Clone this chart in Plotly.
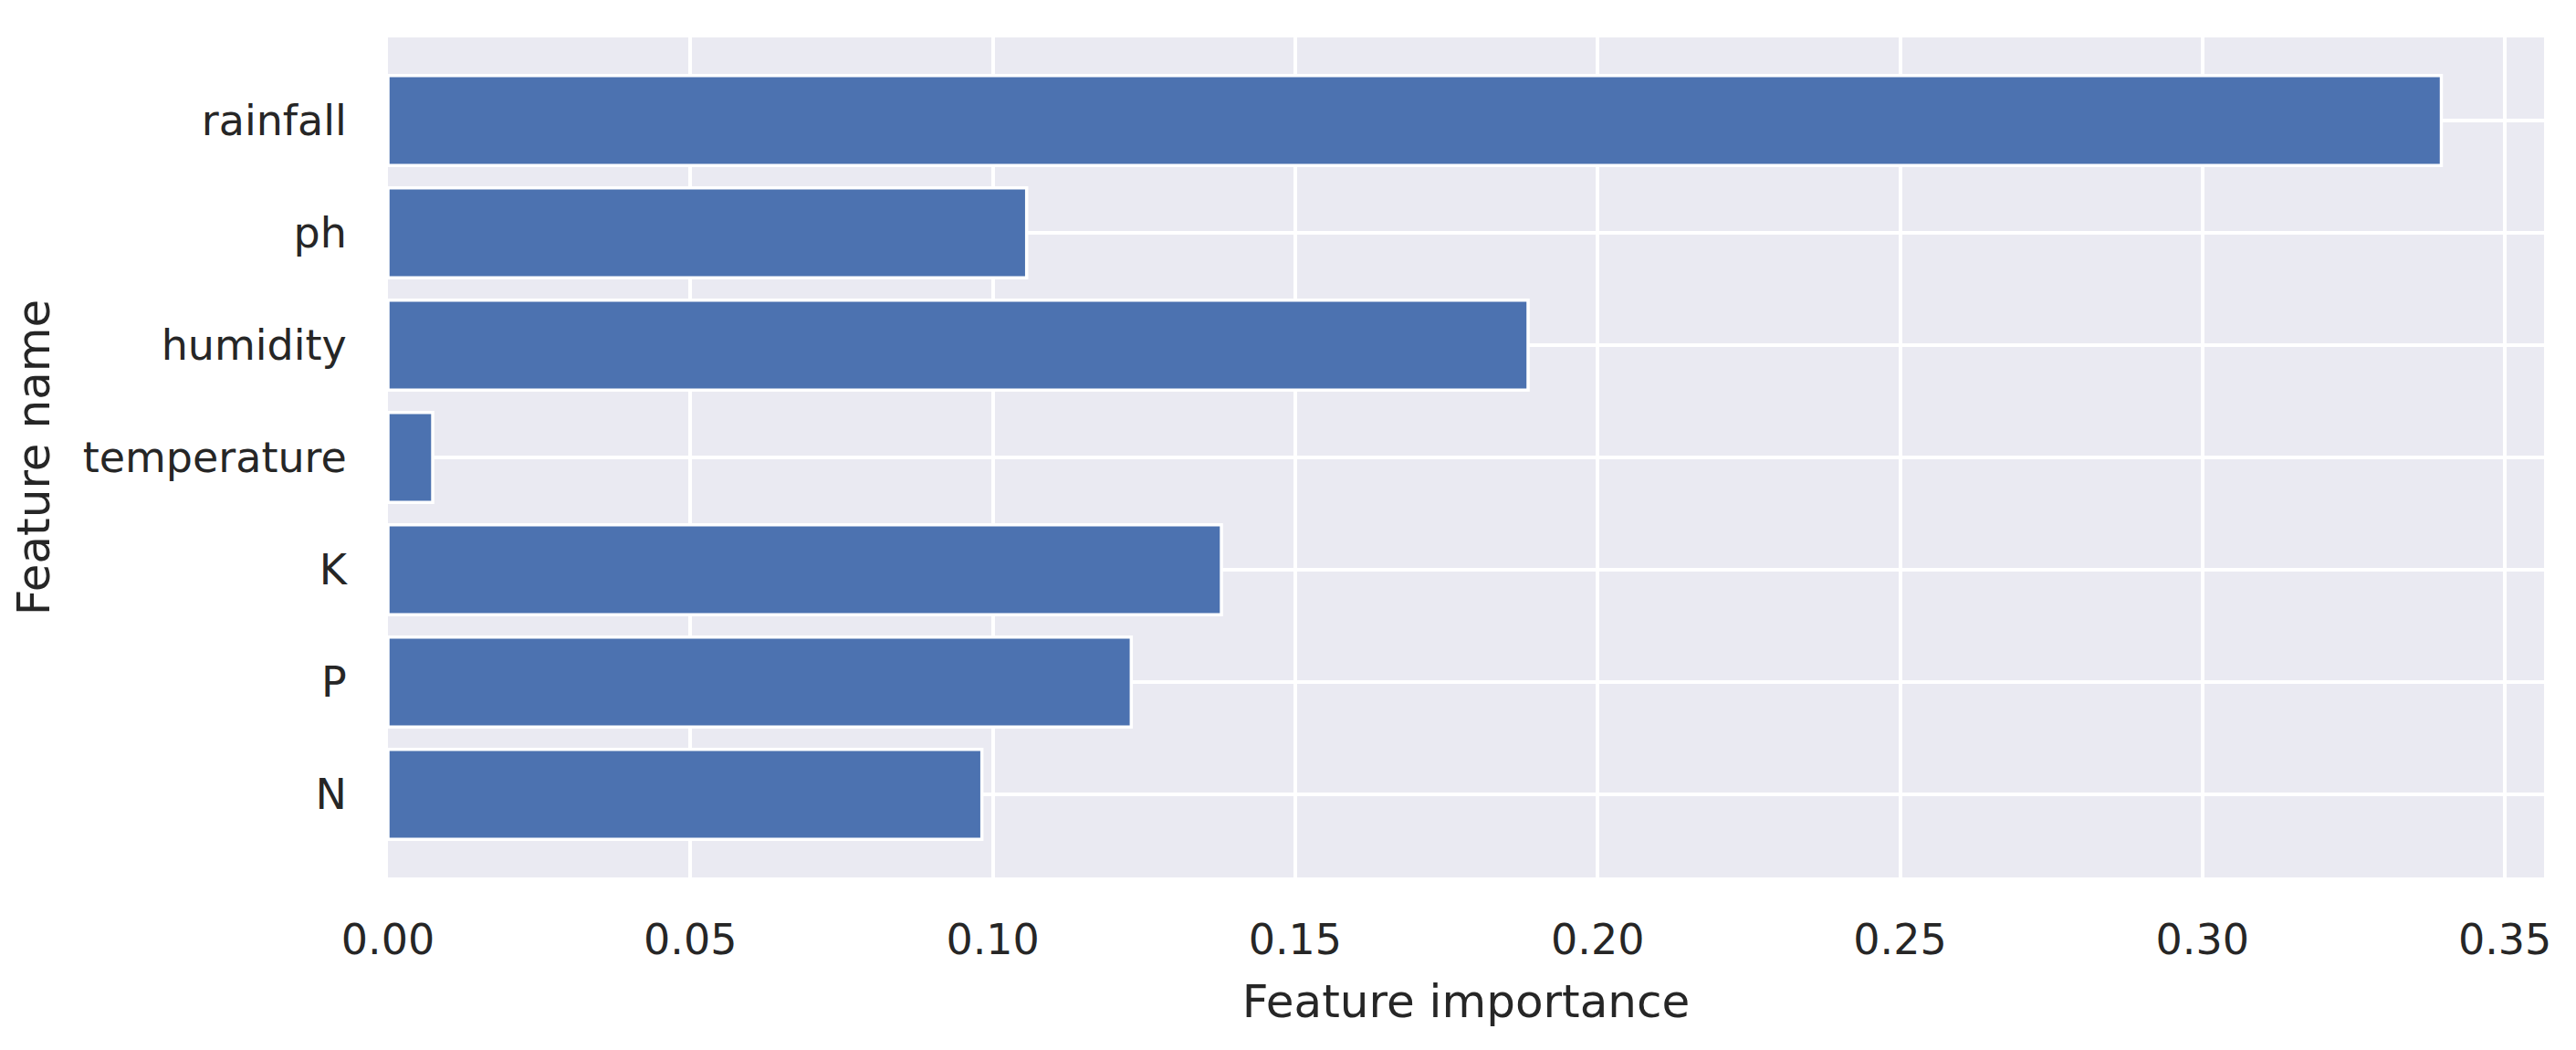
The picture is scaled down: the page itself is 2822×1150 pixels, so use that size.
import plotly.graph_objects as go

features = ["N", "P", "K", "temperature", "humidity", "ph", "rainfall"]
importance = [0.0982, 0.1229, 0.1378, 0.0074, 0.1885, 0.1056, 0.3395]
x_ticks = [0.00, 0.05, 0.10, 0.15, 0.20, 0.25, 0.30, 0.35]
x_tick_text = ["0.00", "0.05", "0.10", "0.15", "0.20", "0.25", "0.30", "0.35"]

# page body has an 8px margin; size the figure so it fits in the window
W, H = 2806, 1134
L, R, T, B = 417, 27, 33, 181

fig = go.Figure()
fig.add_trace(go.Bar(
    x=importance,
    y=list(range(len(features))),
    orientation="h",
    width=0.8,
    marker=dict(color="#4C72B0", line=dict(color="white", width=3.5)),
))

text_color = "#262626"
fig.update_layout(
    width=W, height=H,
    margin=dict(l=L, r=R, t=T, b=B, pad=0),
    paper_bgcolor="white",
    plot_bgcolor="#EAEAF2",
    showlegend=False,
    font=dict(family="DejaVu Sans", color=text_color, size=46),
    bargap=0.2,
)
fig.update_xaxes(
    range=[0, max(importance) * 1.05],
    tickvals=x_ticks,
    ticktext=x_tick_text,
    showgrid=True, gridcolor="white", gridwidth=3.5,
    zeroline=False, showline=False,
    ticks="outside", ticklen=28, tickcolor="rgba(0,0,0,0)",
    tickfont=dict(size=46, color=text_color),
    title=dict(text="Feature importance", font=dict(size=50, color=text_color), standoff=23),
)
fig.update_yaxes(
    range=[-0.74, len(features) - 1 + 0.74],
    tickvals=list(range(len(features))),
    ticktext=features,
    showgrid=True, gridcolor="white", gridwidth=3.5,
    zeroline=False, showline=False,
    ticks="outside", ticklen=35, tickcolor="rgba(0,0,0,0)",
    tickfont=dict(size=46, color=text_color),
    title=dict(text="Feature name", font=dict(size=50, color=text_color), standoff=25),
)

fig.write_html("out.html")
